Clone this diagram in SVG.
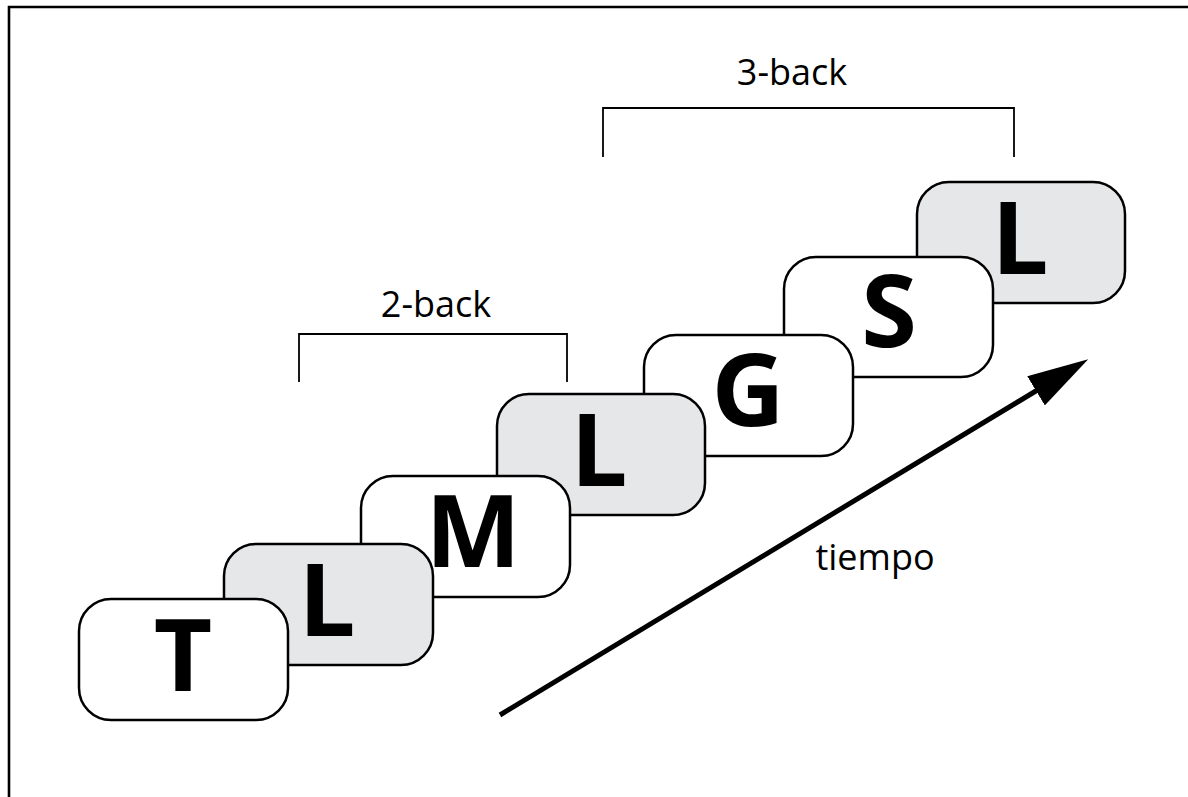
<svg xmlns="http://www.w3.org/2000/svg" width="1188" height="797" viewBox="0 0 1188 797">
  <style>
    .card { stroke: #000; stroke-width: 2.5; }
    .plain { fill: #ffffff; }
    .match { fill: #e6e7e8; }
    .letter { font-family: "Open Sans", "Liberation Sans", sans-serif; font-weight: 700; font-size: 101px; fill: #000; text-anchor: middle; }
    .label { font-family: "Open Sans", "Liberation Sans", sans-serif; font-size: 36px; fill: #000; text-anchor: middle; }
    .bracket { fill: none; stroke: #000; stroke-width: 1.8; }
    .frame { stroke: #000; stroke-width: 2.6; fill: none; }
  </style>
  <defs>
    <marker id="arrowhead" markerUnits="userSpaceOnUse" viewBox="0 0 61 34" refX="21" refY="17" markerWidth="61" markerHeight="34" orient="auto">
      <path d="M0,0 L61,17 L0,34 z" fill="#000"/>
    </marker>
  </defs>

  <rect width="1188" height="797" fill="#fff"/>
  <!-- frame edges -->
  <path class="frame" d="M9,797 V7 H1188"/>

  <!-- cards, back to front -->
  <g id="card7">
    <rect class="card match" x="917" y="182" width="208" height="121" rx="32"/>
    <text class="letter" x="1020" y="274">L</text>
  </g>
  <g id="card6">
    <rect class="card plain" x="784" y="257" width="209" height="120" rx="32"/>
    <text class="letter" x="889" y="347">S</text>
  </g>
  <g id="card5">
    <rect class="card plain" x="644" y="335" width="209" height="121" rx="32"/>
    <text class="letter" x="748" y="426">G</text>
  </g>
  <g id="card4">
    <rect class="card match" x="497" y="394" width="208" height="121" rx="32"/>
    <text class="letter" x="599" y="486">L</text>
  </g>
  <g id="card3">
    <rect class="card plain" x="361" y="476" width="209" height="121" rx="32"/>
    <text class="letter" x="473" y="567">M</text>
  </g>
  <g id="card2">
    <rect class="card match" x="224" y="544" width="209" height="121" rx="32"/>
    <text class="letter" x="327" y="636">L</text>
  </g>
  <g id="card1">
    <rect class="card plain" x="79" y="599" width="209" height="121" rx="32"/>
    <text class="letter" x="183" y="691">T</text>
  </g>

  <!-- brackets and time arrow -->
  <g id="connectors">
    <path class="bracket" d="M299,382 V334 H567 V382"/>
    <path class="bracket" d="M603,157 V108 H1014 V157"/>
    <line x1="500" y1="715" x2="1054" y2="380" stroke="#000" stroke-width="5" marker-end="url(#arrowhead)"/>
  </g>

  <g id="labels">
    <text class="label" x="436" y="317">2-back</text>
    <text class="label" x="792" y="85">3-back</text>
    <text class="label" x="875" y="570">tiempo</text>
  </g>
</svg>
